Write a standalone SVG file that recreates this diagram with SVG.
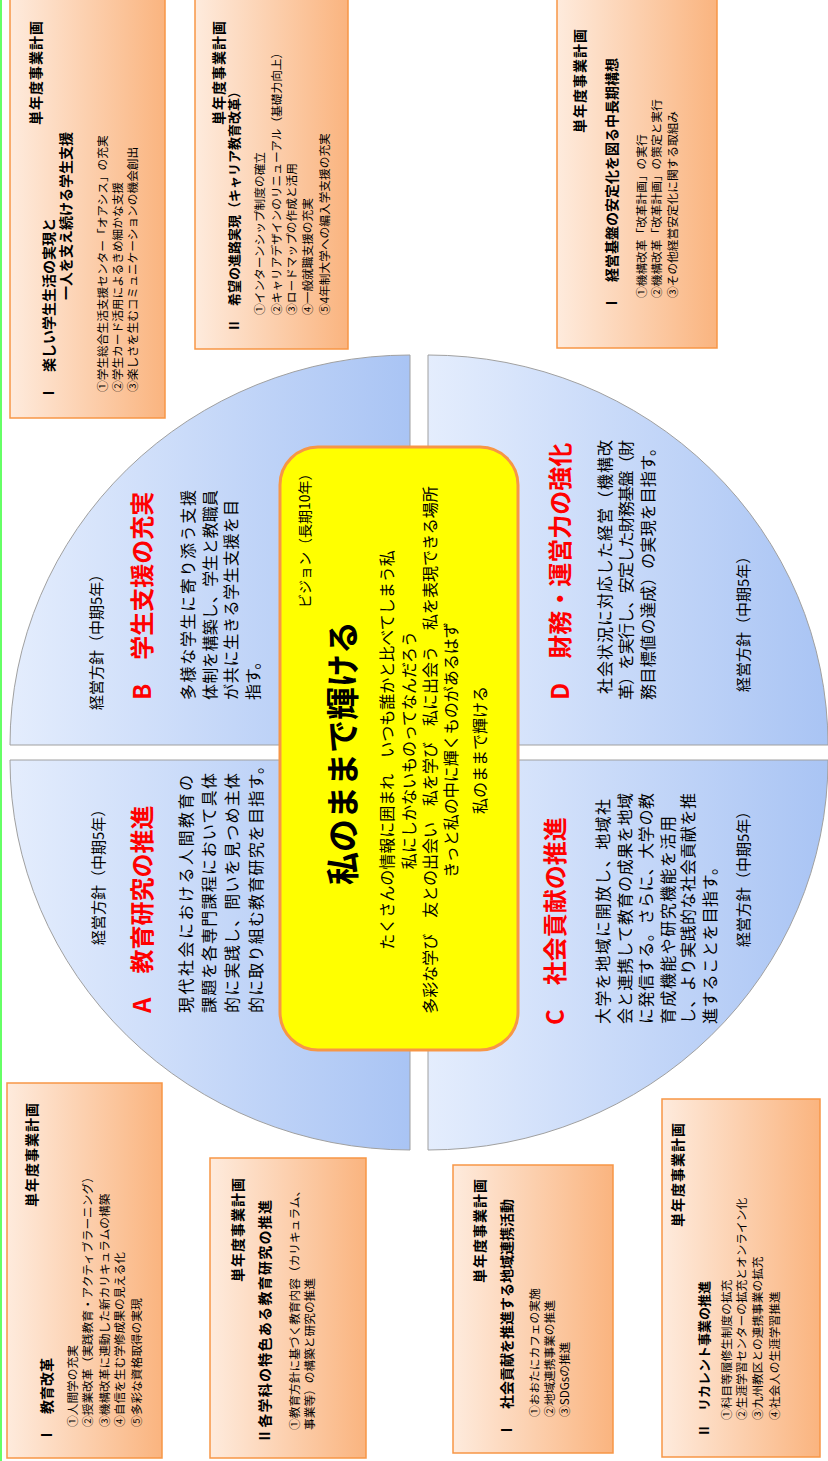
<svg xmlns="http://www.w3.org/2000/svg" width="828" height="1461" viewBox="0 0 828 1461">
<defs>
<linearGradient id="qg" x1="0" y1="0" x2="0" y2="1">
<stop offset="0" stop-color="#E4EDFD"/>
<stop offset="1" stop-color="#A9C4F4"/>
</linearGradient>
<linearGradient id="og" x1="0" y1="0" x2="0" y2="1">
<stop offset="0" stop-color="#FEEBDD"/>
<stop offset="1" stop-color="#FAB47F"/>
</linearGradient>
<style>
text{font-family:"Noto Sans CJK JP","Noto Sans CJK SC",sans-serif;fill:#000}
.q{fill:url(#qg);stroke:#A0A0A0;stroke-width:1}
.ob{fill:url(#og);stroke:#F79646;stroke-width:1.5}
.ttl{font-size:14px;font-weight:bold;letter-spacing:1px}
.hd{font-size:14px;font-weight:bold}
.it{font-size:11.7px}
.bd{font-size:16px}
.pol{font-size:15px}
.red{font-size:24px;font-weight:bold;fill:#FF0000}
</style>
</defs>
<rect x="0" y="0" width="2" height="1461" fill="#66FF66"/>
<g transform="translate(0,1461) rotate(-90)">
<g id="connectors"/>
<g id="quadA">
<path class="q" d="M701,410 L311,410 A390 400 0 0 1 701,10 Z"/>
<text class="pol" x="516" y="104">経営方針（中期5年）</text>
<text class="red" x="448" y="151">A　教育研究の推進</text>
<text class="bd" x="448" y="192" textLength="238" lengthAdjust="spacing">現代社会における人間教育の</text>
<text class="bd" x="448" y="215" textLength="240" lengthAdjust="spacing">課題を各専門課程において具体</text>
<text class="bd" x="448" y="238" textLength="240" lengthAdjust="spacing">的に実践し、問いを見つめ主体</text>
<text class="bd" x="448" y="262" textLength="255" lengthAdjust="spacing">的に取り組む教育研究を目指す。</text>
</g>
<g id="quadB">
<path class="q" d="M716,410 L716,10 A390 400 0 0 1 1106,410 Z"/>
<text class="pol" x="751" y="102">経営方針（中期5年）</text>
<text class="red" x="761" y="151">B　学生支援の充実</text>
<text class="bd" x="761" y="194" textLength="210" lengthAdjust="spacing">多様な学生に寄り添う支援</text>
<text class="bd" x="761" y="216" textLength="210" lengthAdjust="spacing">体制を構築し、学生と教職員</text>
<text class="bd" x="761" y="237" textLength="200" lengthAdjust="spacing">が共に生きる学生支援を目</text>
<text class="bd" x="761" y="259">指す。</text>
</g>
<g id="quadC">
<path class="q" d="M701,428 L701,828 A390 400 0 0 1 311,428 Z"/>
<text class="red" x="436" y="564">C　社会貢献の推進</text>
<text class="bd" x="437" y="609" textLength="225" lengthAdjust="spacing">大学を地域に開放し、地域社</text>
<text class="bd" x="437" y="631" textLength="231" lengthAdjust="spacing">会と連携して教育の成果を地域</text>
<text class="bd" x="437" y="652" textLength="231" lengthAdjust="spacing">に発信する。さらに、大学の教</text>
<text class="bd" x="437" y="674" textLength="208" lengthAdjust="spacing">育成機能や研究機能を活用</text>
<text class="bd" x="437" y="694" textLength="231" lengthAdjust="spacing">し、より実践的な社会貢献を推</text>
<text class="bd" x="437" y="716" textLength="165" lengthAdjust="spacing">進することを目指す。</text>
<text class="pol" x="514" y="749">経営方針（中期5年）</text>
</g>
<g id="quadD">
<path class="q" d="M716,428 L1106,428 A390 400 0 0 1 716,828 Z"/>
<text class="red" x="761" y="569">D　財務・運営力の強化</text>
<text class="bd" x="767" y="611" textLength="254" lengthAdjust="spacing">社会状況に対応した経営（機構改</text>
<text class="bd" x="761" y="632" textLength="260" lengthAdjust="spacing">革）を実行し、安定した財務基盤（財</text>
<text class="bd" x="761" y="654" textLength="260" lengthAdjust="spacing">務目標値の達成）の実現を目指す。</text>
<text class="pol" x="769" y="749">経営方針（中期5年）</text>
</g>
<g id="vision">
<rect x="411" y="280" width="603" height="238" rx="38" ry="38" fill="#FFFF00" stroke="#F79646" stroke-width="3"/>
<text x="853" y="310" style="font-size:14px">ビジョン（長期10年）</text>
<text x="708" y="355" text-anchor="middle" style="font-size:33px;font-weight:bold">私のままで輝ける</text>
<text class="bd" x="711" y="393" text-anchor="middle">たくさんの情報に囲まれ　いつも誰かと比べてしまう私</text>
<text class="bd" x="711" y="415" text-anchor="middle">私にしかないものってなんだろう</text>
<text class="bd" x="711" y="436" text-anchor="middle">多彩な学び　友との出会い　私を学び　私に出会う　私を表現できる場所</text>
<text class="bd" x="711" y="457" text-anchor="middle">きっと私の中に輝くものがあるはず</text>
<text class="bd" x="711" y="486" text-anchor="middle">私のままで輝ける</text>
</g>
<g id="planB1">
<rect class="ob" x="1043" y="10" width="440" height="155"/>
<text class="ttl" x="1336" y="41">単年度事業計画</text>
<text class="hd" x="1061" y="54">Ⅰ　楽しい学生生活の実現と</text>
<text class="hd" x="1161" y="71">一人を支え続ける学生支援</text>
<text class="it" x="1069" y="107">①学生総合生活支援センター「オアシス」の充実</text>
<text class="it" x="1069" y="122">②学生カード活用によるきめ細かな支援</text>
<text class="it" x="1069" y="137">③楽しさを生むコミュニケーションの機会創出</text>
</g>
<g id="planB2">
<rect class="ob" x="1112" y="195" width="370" height="153"/>
<text class="ttl" x="1336" y="224">単年度事業計画</text>
<text class="hd" x="1129" y="239" style="font-size:13px">Ⅱ　希望の進路実現（キャリア教育改革）</text>
<text class="it" x="1146" y="264">①インターンシップ制度の確立</text>
<text class="it" x="1146" y="281">②キャリアデザインのリニューアル（基礎力向上）</text>
<text class="it" x="1146" y="296">③ロードマップの作成と活用</text>
<text class="it" x="1146" y="312">④一般就職支援の充実</text>
<text class="it" x="1146" y="329">⑤4年制大学への編入学支援の充実</text>
</g>
<g id="planD1">
<rect class="ob" x="1113" y="557" width="370" height="160"/>
<text class="ttl" x="1328" y="585">単年度事業計画</text>
<text class="hd" x="1151" y="617">Ⅰ　経営基盤の安定化を図る中長期構想</text>
<text class="it" x="1163" y="646">①機構改革「改革計画」の実行</text>
<text class="it" x="1163" y="661">②機構改革「改革計画」の策定と実行</text>
<text class="it" x="1163" y="677">③その他経営安定化に関する取組み</text>
</g>
<g id="planA1">
<rect class="ob" x="3" y="7" width="375" height="155"/>
<text class="ttl" x="254" y="37">単年度事業計画</text>
<text class="hd" x="19" y="52">Ⅰ　教育改革</text>
<text class="it" x="34" y="77">①人間学の充実</text>
<text class="it" x="34" y="92">②授業改革（実践教育・アクティブラーニング）</text>
<text class="it" x="34" y="109">③機構改革に連動した新カリキュラムの構築</text>
<text class="it" x="34" y="124">④自信を生む学修成果の見える化</text>
<text class="it" x="34" y="141">⑤多彩な資格取得の実現</text>
</g>
<g id="planA2">
<rect class="ob" x="3" y="210" width="300" height="156"/>
<text class="ttl" x="179" y="243">単年度事業計画</text>
<text class="hd" x="18" y="270" textLength="243" lengthAdjust="spacing">Ⅱ各学科の特色ある教育研究の推進</text>
<text class="it" x="31" y="299">①教育方針に基づく教育内容（カリキュラム、</text>
<text class="it" x="31" y="314">事業等）の構築と研究の推進</text>
</g>
<g id="planC1">
<rect class="ob" x="8" y="453" width="288" height="160"/>
<text class="ttl" x="178" y="485">単年度事業計画</text>
<text class="hd" x="24" y="512">Ⅰ　社会貢献を推進する地域連携活動</text>
<text class="it" x="44" y="539">①おおたにカフェの実施</text>
<text class="it" x="44" y="554">②地域連携事業の推進</text>
<text class="it" x="44" y="569">③SDGsの推進</text>
</g>
<g id="planC2">
<rect class="ob" x="4" y="662" width="358" height="158"/>
<text class="ttl" x="234" y="683">単年度事業計画</text>
<text class="hd" x="24" y="709" style="font-size:13px">Ⅱ　リカレント事業の推進</text>
<text class="it" x="41" y="731">①科目等履修生制度の拡充</text>
<text class="it" x="41" y="746">②生涯学習センターの拡充とオンライン化</text>
<text class="it" x="41" y="762">③九州教区との連携事業の拡充</text>
<text class="it" x="41" y="779">④社会人の生涯学習推進</text>
</g>
</g>
</svg>
